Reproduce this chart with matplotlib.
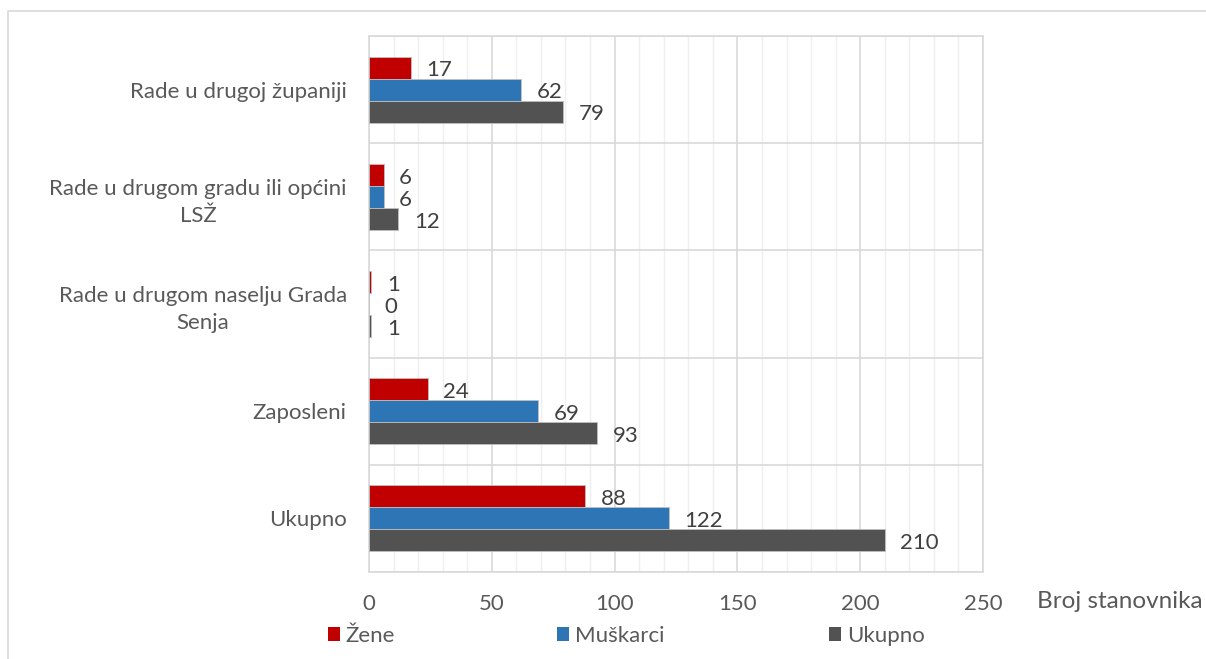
import numpy as np
import matplotlib.pyplot as plt
from matplotlib.patches import Patch, Rectangle

plt.rcParams['font.family'] = ['Lato', 'DejaVu Sans']

# data (bottom to top, as drawn)
categories = ["Ukupno", "Zaposleni", "Rade u drugom naselju Grada\nSenja",
              "Rade u drugom gradu ili općini\nLSŽ", "Rade u drugoj županiji"]
zene = [88, 24, 1, 6, 17]
muskarci = [122, 69, 0, 6, 62]
ukupno = [210, 93, 1, 12, 79]
series_names = ["Žene", "Muškarci", "Ukupno"]
colors = ["#C00000", "#2E75B6", "#525252"]
text_col = "#595959"
fs = 16

fig = plt.figure(figsize=(12.06, 6.59), dpi=100)
ax = fig.add_axes([369 / 1206, 1 - 572 / 659, 614 / 1206, 536 / 659])

y = np.arange(len(categories))
h = 0.205
series = [zene, muskarci, ukupno]
offsets = [h, 0, -h]
for vals, off, col in zip(series, offsets, colors):
    bars = ax.barh(y + off, vals, height=h, color=col, edgecolor='#bfbfbf',
                   linewidth=0.6, zorder=3)
    for b, v in zip(bars, vals):
        ax.annotate(str(v), (v, b.get_y() + b.get_height() / 2),
                    xytext=(11, -2), textcoords='offset points',
                    va='center', ha='left', fontsize=fs, color='#404040')

ax.set_xlim(0, 250)
ax.set_ylim(-0.5, len(categories) - 0.5)
ax.set_xticks(np.arange(0, 251, 50))
ax.set_xticks(np.arange(0, 251, 10), minor=True)
ax.set_yticks(y)
ax.set_yticklabels(categories, multialignment='center', linespacing=1.45)
ax.set_yticks(np.arange(-0.5, len(categories), 1), minor=True)

ax.grid(axis='x', which='major', color='#d9d9d9', linewidth=1.2, zorder=0)
ax.grid(axis='x', which='minor', color='#efefef', linewidth=1.0, zorder=0)
ax.grid(axis='y', which='minor', color='#d9d9d9', linewidth=1.2, zorder=0)
ax.tick_params(axis='both', which='both', length=0, colors=text_col, labelsize=fs)
ax.tick_params(axis='y', pad=16)
ax.tick_params(axis='x', pad=16)
for s in ax.spines.values():
    s.set_color('#d9d9d9')
    s.set_linewidth(1.2)

fig.text(1037 / 1206, 1 - 601 / 659, "Broj stanovnika", fontsize=17.5,
         color=text_col, va='center', ha='left')

# legend items spread like the original
leg_x = [328, 557, 829]
for name, col, lx in zip(series_names, colors, leg_x):
    lg = fig.legend(handles=[Patch(facecolor=col, label=name)],
                    loc='center left', bbox_to_anchor=(lx / 1206, 1 - 636 / 659),
                    frameon=False, fontsize=fs, handlelength=0.55,
                    handleheight=0.55, handletextpad=0.25, borderpad=0,
                    borderaxespad=0)
    for t in lg.get_texts():
        t.set_color(text_col)

# chart frame
fig.add_artist(Rectangle((8 / 1206, -0.1), 1.2, 1.1 - 11 / 659,
                         transform=fig.transFigure, fill=False,
                         edgecolor='#d9d9d9', linewidth=1.2))

fig.savefig("out.png", dpi=100)
